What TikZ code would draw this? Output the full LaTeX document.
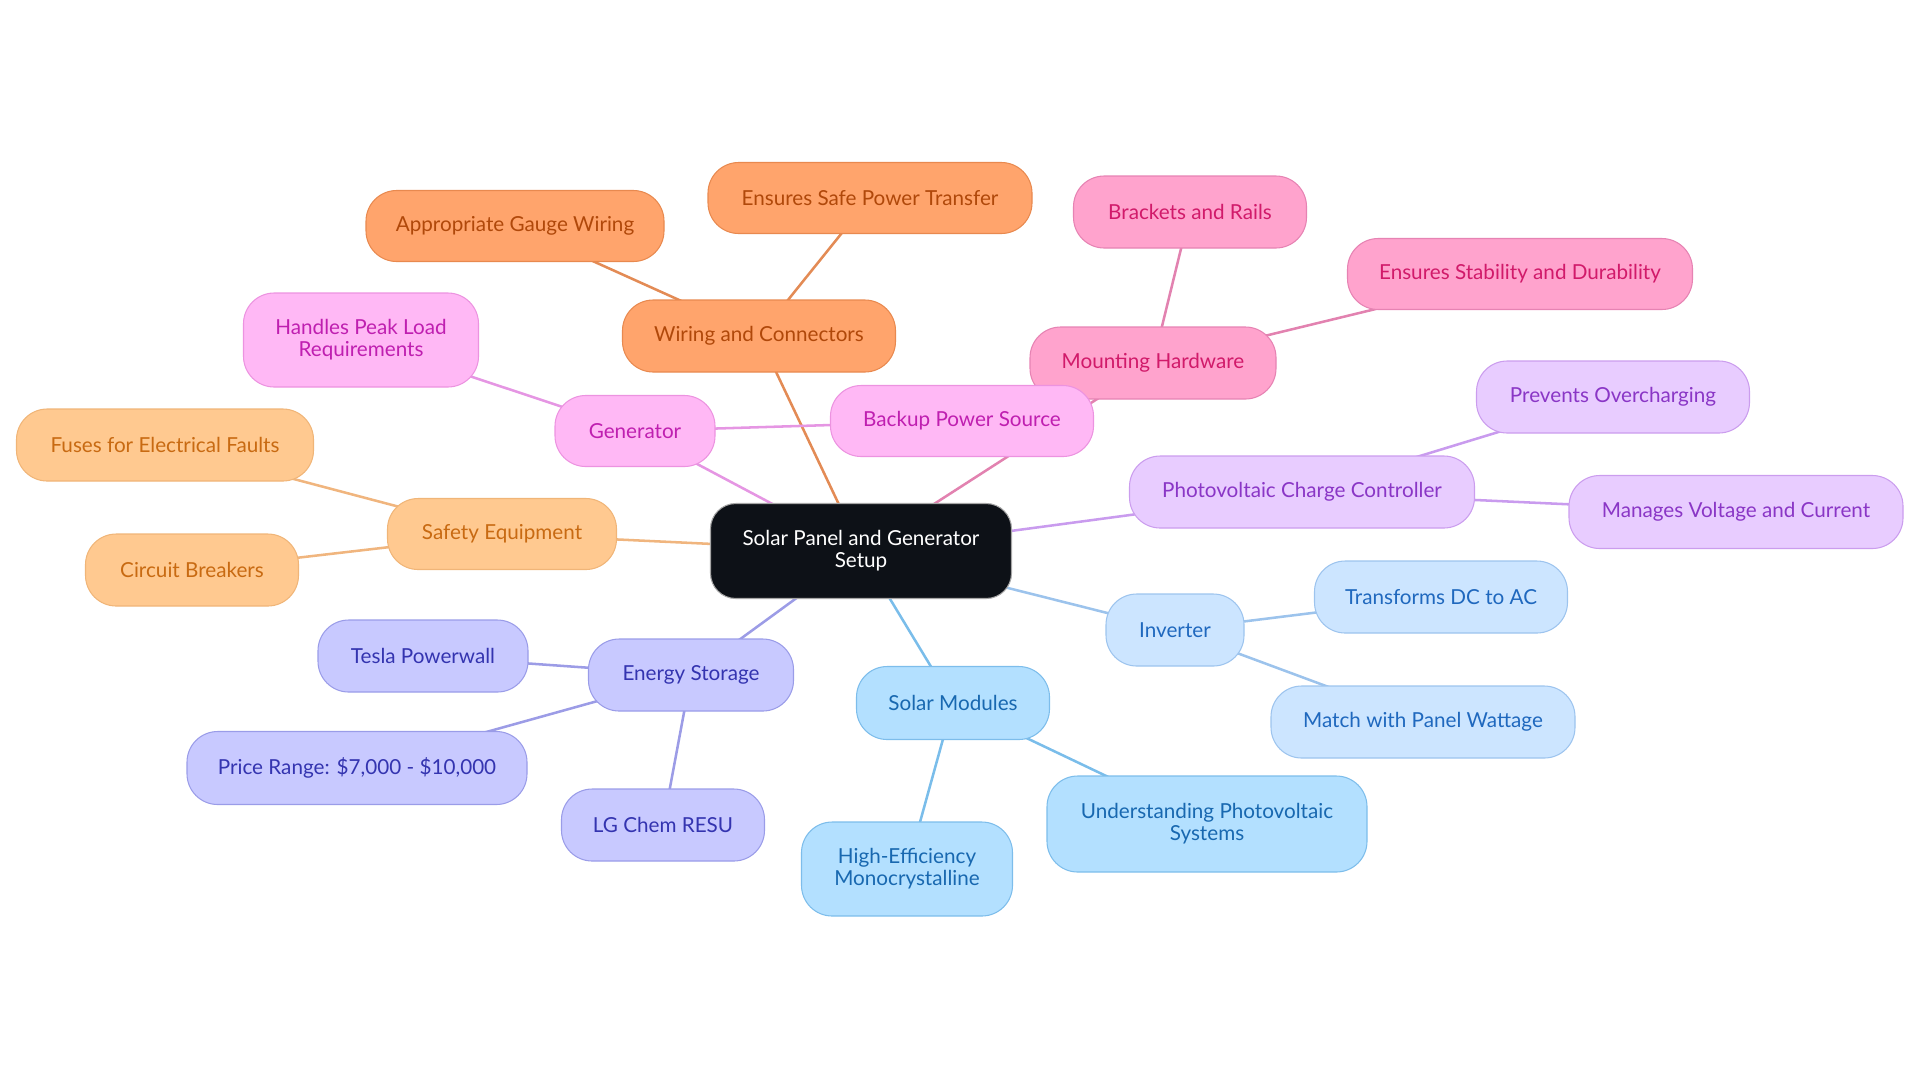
\documentclass[tikz,border=0pt]{standalone}
\usepackage{fontspec}
\setmainfont{Lato}
\pgfdeclarelayer{bg}
\pgfsetlayers{bg,main}
\definecolor{orF}{HTML}{FFA46C}\definecolor{orD}{HTML}{E8894F}\definecolor{orT}{HTML}{B0480A}\definecolor{orL}{HTML}{E38B55}
\definecolor{pkF}{HTML}{FFA3CD}\definecolor{pkD}{HTML}{E683B3}\definecolor{pkT}{HTML}{D11A6A}\definecolor{pkL}{HTML}{E282B0}
\definecolor{mgF}{HTML}{FFB8F5}\definecolor{mgD}{HTML}{EC93E0}\definecolor{mgT}{HTML}{BF1FB0}\definecolor{mgL}{HTML}{E596E3}
\definecolor{loF}{HTML}{FFC990}\definecolor{loD}{HTML}{F0B578}\definecolor{loT}{HTML}{C86A12}\definecolor{loL}{HTML}{F0B57E}
\definecolor{puF}{HTML}{C8C9FF}\definecolor{puD}{HTML}{9A9CE8}\definecolor{puT}{HTML}{3434B0}\definecolor{puL}{HTML}{9C9CE6}
\definecolor{bkF}{HTML}{B3E0FF}\definecolor{bkD}{HTML}{7DBDEB}\definecolor{bkT}{HTML}{1868B0}\definecolor{bkL}{HTML}{7ABDEA}
\definecolor{lbF}{HTML}{CCE5FF}\definecolor{lbD}{HTML}{9DC4EE}\definecolor{lbT}{HTML}{1F68BE}\definecolor{lbL}{HTML}{9CC3EC}
\definecolor{lvF}{HTML}{E8CCFF}\definecolor{lvD}{HTML}{CB9DEE}\definecolor{lvT}{HTML}{8A36C6}\definecolor{lvL}{HTML}{C99BEE}
\definecolor{ctF}{HTML}{0D1117}
\tikzset{
  box/.style={draw, rounded corners=23pt, line width=0.8pt, align=center, inner sep=0pt,
    font=\fontsize{15.5}{16.5}\selectfont},
  sz/.style 2 args={minimum width=#1*0.75pt, minimum height=#2*0.75pt},
  or/.style={box, fill=orF, draw=orD, text=orT},
  pk/.style={box, fill=pkF, draw=pkD, text=pkT},
  mg/.style={box, fill=mgF, draw=mgD, text=mgT},
  lo/.style={box, fill=loF, draw=loD, text=loT},
  pu/.style={box, fill=puF, draw=puD, text=puT},
  bk/.style={box, fill=bkF, draw=bkD, text=bkT},
  lb/.style={box, fill=lbF, draw=lbD, text=lbT},
  lv/.style={box, fill=lvF, draw=lvD, text=lvT},
  link/.style={line width=1.9pt},
}
\begin{document}
\begin{tikzpicture}[x=0.75pt,y=-0.75pt]
\useasboundingbox (0,0) rectangle (1920,1083);
\node[box, fill=ctF, draw=gray!70, text=white, rounded corners=19pt, sz={301}{95}] (c) at (861,551) {Solar Panel and Generator\\Setup};
% orange
\node[or, sz={273}{72}] (wc) at (759,336) {Wiring and Connectors};
\node[or, sz={298}{71}] (agw) at (515,226) {Appropriate Gauge Wiring};
\node[or, sz={324}{71}] (esp) at (870,198) {Ensures Safe Power Transfer};
% pink
\node[pk, sz={246}{72}] (mh) at (1153,363) {Mounting Hardware};
\node[pk, sz={233}{72}] (br) at (1190,212) {Brackets and Rails};
\node[pk, sz={345}{71}] (esd) at (1520,274) {Ensures Stability and Durability};
% magenta
\node[mg, sz={160}{71}] (gen) at (635,431) {Generator};
\node[mg, sz={263}{71}] (bps) at (962,421) {Backup Power Source};
\node[mg, sz={235}{94}] (hpl) at (361,340) {Handles Peak Load\\Requirements};
% light orange
\node[lo, sz={229}{71}] (se) at (502,534) {Safety Equipment};
\node[lo, sz={297}{72}] (ff) at (165,445) {Fuses for Electrical Faults};
\node[lo, sz={213}{72}] (cb) at (192,570) {Circuit Breakers};
% periwinkle
\node[pu, sz={205}{72}] (es) at (691,675) {Energy Storage};
\node[pu, sz={210}{72}] (tp) at (423,656) {Tesla Powerwall};
\node[pu, sz={340}{73}] (pr) at (357,768) {Price Range: \$7,000 - \$10,000};
\node[pu, sz={203}{72}] (lg) at (663,825) {LG Chem RESU};
% blue
\node[bk, sz={193}{73}] (sm) at (953,703) {Solar Modules};
\node[bk, sz={211}{94}] (he) at (907,869) {High-Efficiency\\Monocrystalline};
\node[bk, sz={320}{96}] (up) at (1207,824) {Understanding Photovoltaic\\Systems};
% light blue
\node[lb, sz={138}{72}] (inv) at (1175,630) {Inverter};
\node[lb, sz={253}{72}] (tdc) at (1441,597) {Transforms DC to AC};
\node[lb, sz={304}{72}] (mpw) at (1423,722) {Match with Panel Wattage};
% lavender
\node[lv, sz={345}{72}] (pcc) at (1302,492) {Photovoltaic Charge Controller};
\node[lv, sz={273}{72}] (po) at (1613,397) {Prevents Overcharging};
\node[lv, sz={334}{73}] (mvc) at (1736,512) {Manages Voltage and Current};
\begin{pgfonlayer}{bg}
\draw[link, orL] (c.center) -- (wc.center);
\draw[link, orL] (wc.center) -- (agw.center);
\draw[link, orL] (wc.center) -- (esp.center);
\draw[link, pkL] (c.center) -- (mh.center);
\draw[link, pkL] (mh.center) -- (br.center);
\draw[link, pkL] (mh.center) -- (esd.center);
\draw[link, mgL] (c.center) -- (gen.center);
\draw[link, mgL] (gen.center) -- (bps.center);
\draw[link, mgL] (gen.center) -- (hpl.center);
\draw[link, loL] (c.center) -- (se.center);
\draw[link, loL] (se.center) -- (ff.center);
\draw[link, loL] (se.center) -- (cb.center);
\draw[link, puL] (c.center) -- (es.center);
\draw[link, puL] (es.center) -- (tp.center);
\draw[link, puL] (es.center) -- (pr.center);
\draw[link, puL] (es.center) -- (lg.center);
\draw[link, bkL] (c.center) -- (sm.center);
\draw[link, bkL] (sm.center) -- (he.center);
\draw[link, bkL] (sm.center) -- (up.center);
\draw[link, lbL] (c.center) -- (inv.center);
\draw[link, lbL] (inv.center) -- (tdc.center);
\draw[link, lbL] (inv.center) -- (mpw.center);
\draw[link, lvL] (c.center) -- (pcc.center);
\draw[link, lvL] (pcc.center) -- (po.center);
\draw[link, lvL] (pcc.center) -- (mvc.center);
\end{pgfonlayer}
\end{tikzpicture}
\end{document}
